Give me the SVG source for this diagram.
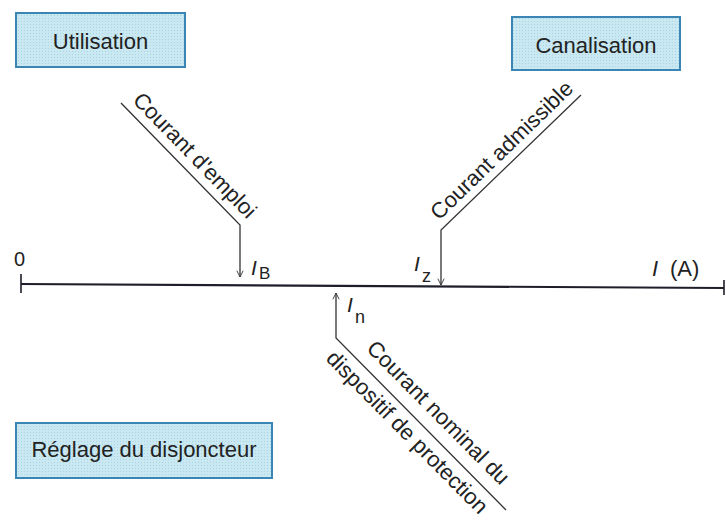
<svg xmlns="http://www.w3.org/2000/svg" width="726" height="524" viewBox="0 0 726 524">
  <style>
    .box { fill: #c6e6ef; stroke: #3a85b3; stroke-width: 2; }
    .lbl { font-family: "Liberation Sans", Arial, sans-serif; font-size: 22px; fill: #222; }
    .sym { font-family: "Liberation Sans", Arial, sans-serif; fill: #222; }
    .conn { fill: none; stroke: #333; stroke-width: 1.3; }
    .axis { fill: none; stroke: #1e1e2a; stroke-width: 2.2; }
  </style>
  <defs>
    <pattern id="dots" width="3" height="3" patternUnits="userSpaceOnUse">
      <rect width="3" height="3" fill="#c9e8f1"/>
      <rect width="1" height="1" fill="#a9d4e2"/>
    </pattern>
    <marker id="arr" viewBox="0 0 10 10" refX="10" refY="5" markerWidth="7" markerHeight="9" markerUnits="userSpaceOnUse" orient="auto">
      <path d="M1,0.5 L10,5 L1,9.5" fill="none" stroke="#333" stroke-width="1.3"/>
    </marker>
  </defs>
  <rect width="726" height="524" fill="#ffffff"/>

  <g id="utilisation">
    <rect class="box" x="16" y="13" width="169" height="54" style="fill:url(#dots)"/>
    <text class="lbl" x="100.5" y="49" text-anchor="middle">Utilisation</text>
  </g>
  <g id="canalisation">
    <rect class="box" x="512" y="17" width="168" height="53" style="fill:url(#dots)"/>
    <text class="lbl" x="596" y="53" text-anchor="middle">Canalisation</text>
  </g>
  <g id="reglage">
    <rect class="box" x="16" y="423" width="256" height="55" style="fill:url(#dots)"/>
    <text class="lbl" x="144" y="457" text-anchor="middle">Réglage du disjoncteur</text>
  </g>

  <g id="axis">
    <line class="axis" x1="21" y1="284" x2="724" y2="288"/>
    <line class="axis" x1="21" y1="274" x2="21" y2="293" style="stroke-width:1.6"/>
    <line class="axis" x1="724" y1="280" x2="724" y2="295" style="stroke-width:1.6"/>
    <text class="sym" x="14" y="266" font-size="20">0</text>
    <text class="sym" x="652" y="276" font-size="22" font-style="italic">I</text>
    <text class="sym" x="670" y="276" font-size="22">(A)</text>
  </g>

  <g id="connectors">
    <polyline class="conn" points="121,103 240,225 240,277" marker-end="url(#arr)"/>
    <polyline class="conn" points="581,95 441,230 441,285" marker-end="url(#arr)"/>
    <polyline class="conn" points="506,510 336,338 336,293" marker-end="url(#arr)"/>
  </g>

  <g id="label-ib">
    <text class="lbl" transform="translate(189.5,160.5) rotate(45.7)" text-anchor="middle">Courant d'emploi</text>
    <text class="sym" x="251" y="275" font-size="21" font-style="italic">I</text>
    <text class="sym" x="259" y="279" font-size="17">B</text>
  </g>
  <g id="label-iz">
    <text class="lbl" transform="translate(506.7,155.5) rotate(-44)" text-anchor="middle">Courant admissible</text>
    <text class="sym" x="414" y="271" font-size="21" font-style="italic">I</text>
    <text class="sym" x="422" y="282" font-size="18">z</text>
  </g>
  <g id="label-in">
    <text class="lbl" transform="translate(433.1,417.8) rotate(45.3)" text-anchor="middle">Courant nominal du</text>
    <text class="lbl" transform="translate(402,437.4) rotate(45.3)" text-anchor="middle">dispositif de protection</text>
    <text class="sym" x="347" y="312" font-size="21" font-style="italic">I</text>
    <text class="sym" x="355" y="323" font-size="18">n</text>
  </g>
</svg>
